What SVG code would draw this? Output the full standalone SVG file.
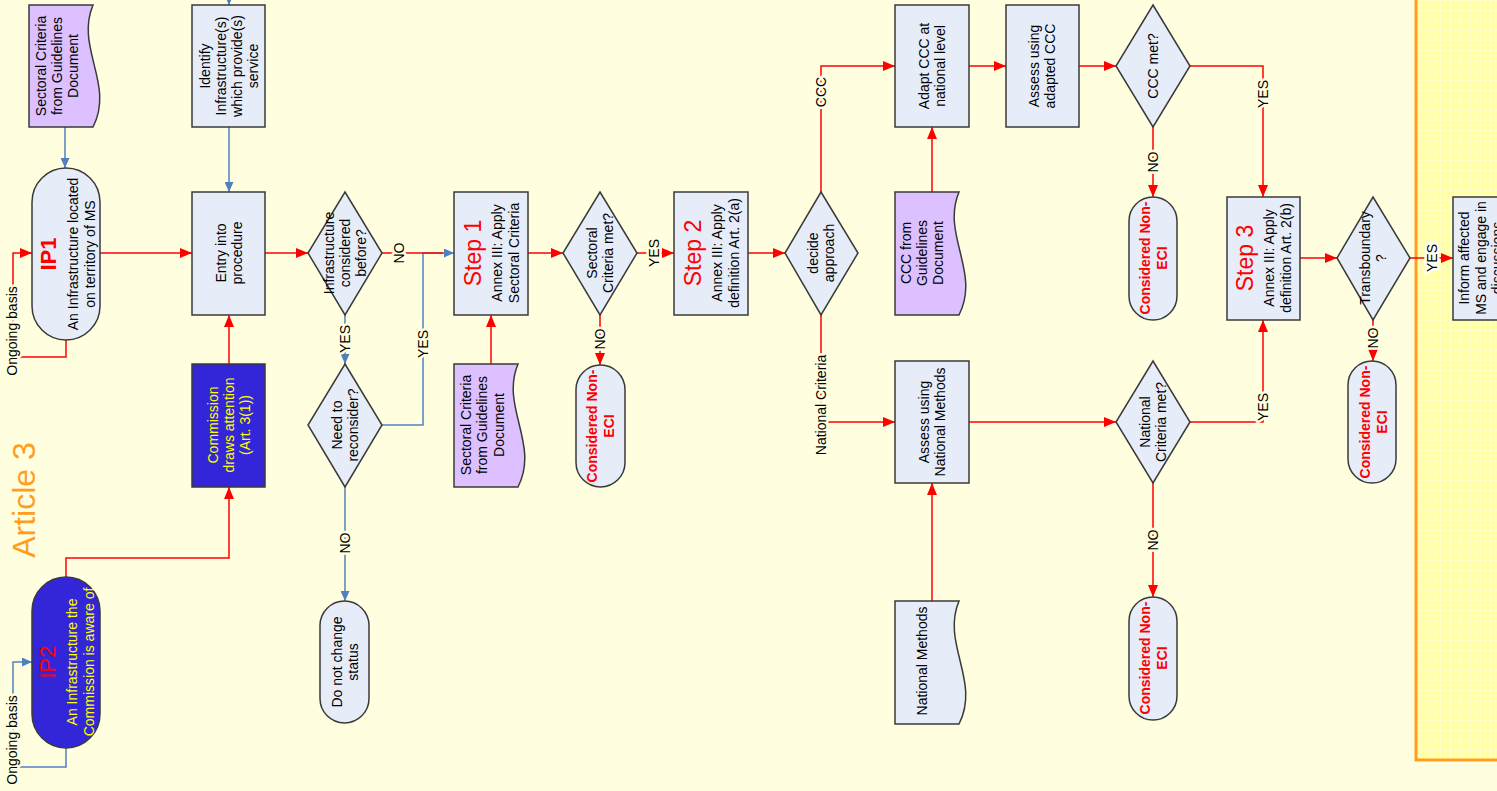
<svg xmlns="http://www.w3.org/2000/svg" width="1497" height="791" viewBox="0 0 1497 791">
<style>
text{font-family:"Liberation Sans",Arial,sans-serif;font-size:14px;fill:#000;text-anchor:middle}
.node{fill:#E6ECF8;stroke:#3a3a3a;stroke-width:1.5}
.doc{fill:#DCC0FF;stroke:#3a3a3a;stroke-width:1.5}
.dark{fill:#3326D9;stroke:#3a3a3a;stroke-width:1.5}
.yel{fill:#FFFF00}
.red{fill:#FF0000}
.big{font-size:23px}
.ip{font-size:22px}
.bold{font-weight:bold}
.c{fill:none;stroke:#FF0000;stroke-width:1.5}
.b{fill:none;stroke:#5080C0;stroke-width:1.5}
.ar{marker-end:url(#ra)}
.ab{marker-end:url(#ba)}
.lbl{font-size:14px;paint-order:stroke;stroke:#FFFFE0;stroke-width:5px;stroke-linejoin:round}
.lblw{font-size:14px;paint-order:stroke;stroke:#FFFFF2;stroke-width:5px;stroke-linejoin:round}
</style>
<defs>
<marker id="ra" markerUnits="userSpaceOnUse" markerWidth="12" markerHeight="10" refX="12" refY="5" orient="auto"><path d="M0,0 L12,5 L0,10 z" fill="#FF0000"/></marker>
<marker id="ba" markerUnits="userSpaceOnUse" markerWidth="10" markerHeight="9" refX="10" refY="4.5" orient="auto"><path d="M0,0 L10,4.5 L0,9 z" fill="#5080C0"/></marker>
<pattern id="grid" width="5" height="5" patternUnits="userSpaceOnUse"><rect width="5" height="5" fill="#FFFFA6"/><path d="M0,0.5 H5 M0.5,0 V5" stroke="#FFFFC4" stroke-width="1"/></pattern>
</defs>
<rect width="1497" height="791" fill="#FFFFE0"/>
<rect x="1416" y="-10" width="100" height="770" fill="url(#grid)" stroke="#FF9E1E" stroke-width="3"/>

<g id="connectors">
<path class="c ar" d="M100,253 H192"/>
<path class="c ar" d="M66,340 V357 H13 V253 H32"/>
<path class="c ar" d="M66,577 V558 H229 V487"/>
<path class="b ab" d="M66,748 V767 H13 V662 H32"/>
<path class="c ar" d="M229,364 V315"/>
<path class="b ab" d="M229,127 V192"/>
<path class="b ab" d="M229,-5 V5"/>
<path class="b ab" d="M65,127 V168"/>
<path class="c ar" d="M265,253 H308"/>
<path class="b ab" d="M345,315 V364"/>
<path class="b ab" d="M345,487 V601"/>
<path class="b ab" d="M382,425 H423 V253 H454"/>
<path class="c" d="M382,253 H443"/>
<path class="c ar" d="M491,364 V315"/>
<path class="c ar" d="M528,253 H563"/>
<path class="c ar" d="M600,315 V365"/>
<path class="c ar" d="M637,253 H674"/>
<path class="c ar" d="M748,253 H785"/>
<path class="c ar" d="M821,192 V66 H895"/>
<path class="c ar" d="M821,315 V422 H895"/>
<path class="c ar" d="M932,192 V127"/>
<path class="c ar" d="M969,66 H1006"/>
<path class="c ar" d="M1079,66 H1116"/>
<path class="c ar" d="M1153,127 V197"/>
<path class="c ar" d="M1190,66 H1263 V197"/>
<path class="c ar" d="M932,601 V483"/>
<path class="c ar" d="M969,422 H1116"/>
<path class="c ar" d="M1153,483 V597"/>
<path class="c ar" d="M1190,422 H1263 V320"/>
<path class="c ar" d="M1300,258 H1337"/>
<path class="c ar" d="M1373,320 V361"/>
<path class="c ar" d="M1410,258 H1453"/>
<text class="lbl" transform="translate(12,331) rotate(-90)" y="5">Ongoing basis</text>
<text class="lbl" transform="translate(12,740) rotate(-90)" y="5">Ongoing basis</text>
<text class="lbl" transform="translate(345,339) rotate(-90)" y="5">YES</text>
<text class="lbl" transform="translate(423,344) rotate(-90)" y="5">YES</text>
<text class="lbl" transform="translate(399,253) rotate(-90)" y="5">NO</text>
<text class="lbl" transform="translate(345,543) rotate(-90)" y="5">NO</text>
<text class="lbl" transform="translate(600,339) rotate(-90)" y="5">NO</text>
<text class="lbl" transform="translate(654,253) rotate(-90)" y="5">YES</text>
<text class="lbl" transform="translate(821,92) rotate(-90)" y="5">CCC</text>
<text class="lbl" transform="translate(821,405) rotate(-90)" y="5">National Criteria</text>
<text class="lbl" transform="translate(1153,162) rotate(-90)" y="5">NO</text>
<text class="lbl" transform="translate(1263,94) rotate(-90)" y="5">YES</text>
<text class="lbl" transform="translate(1153,540) rotate(-90)" y="5">NO</text>
<text class="lbl" transform="translate(1263,407) rotate(-90)" y="5">YES</text>
<text class="lbl" transform="translate(1373,338) rotate(-90)" y="5">NO</text>
<text class="lblw" transform="translate(1432,258) rotate(-90)" y="5">YES</text>
</g>

<g id="article3"><text transform="translate(24,500) rotate(-90)" y="11" style="font-size:32px;fill:#FF9E1E">Article 3</text></g>

<g id="doc-sectoral-1">
<path class="doc" d="M29,5 H93 C75,48 115,84 93,127 H29 Z"/>
<text transform="translate(57,66) rotate(-90)"><tspan x="0" y="-11">Sectoral Criteria</tspan><tspan x="0" y="5">from Guidelines</tspan><tspan x="0" y="21">Document</tspan></text>
</g>

<g id="ip1">
<rect class="node" x="32" y="168" width="68" height="172" rx="34"/>
<text transform="translate(66,254) rotate(-90)"><tspan x="0" y="-10" class="ip bold red">IP1</tspan><tspan x="0" y="12">An Infrastructure located</tspan><tspan x="0" y="29">on territory of MS</tspan></text>
</g>

<g id="identify">
<rect class="node" x="192" y="5" width="73" height="122"/>
<text transform="translate(229,66) rotate(-90)"><tspan x="0" y="-19">Identify</tspan><tspan x="0" y="-3">Infrastructure(s)</tspan><tspan x="0" y="13">which provide(s)</tspan><tspan x="0" y="29">service</tspan></text>
</g>

<g id="entry">
<rect class="node" x="192" y="192" width="73" height="123"/>
<text transform="translate(229,253) rotate(-90)"><tspan x="0" y="-3">Entry into</tspan><tspan x="0" y="13">procedure</tspan></text>
</g>

<g id="commission">
<rect class="dark" x="192" y="364" width="73" height="123"/>
<text class="yel" transform="translate(229,425) rotate(-90)"><tspan x="0" y="-11">Commission</tspan><tspan x="0" y="5">draws attention</tspan><tspan x="0" y="21">(Art. 3(1))</tspan></text>
</g>

<g id="ip2">
<rect class="dark" x="32" y="577" width="68" height="171" rx="34"/>
<text class="yel" transform="translate(66,662) rotate(-90)"><tspan x="0" y="-11" class="ip red">IP2</tspan><tspan x="0" y="11">An Infrastructure the</tspan><tspan x="0" y="28">Commission is aware of</tspan></text>
</g>

<g id="considered-before">
<polygon class="node" points="345,192 382,253 345,315 308,253"/>
<text transform="translate(345,253) rotate(-90)"><tspan x="0" y="-11">Infrastructure</tspan><tspan x="0" y="5">considered</tspan><tspan x="0" y="21">before?</tspan></text>
</g>

<g id="need-reconsider">
<polygon class="node" points="345,364 382,425 345,487 308,425"/>
<text transform="translate(345,425) rotate(-90)"><tspan x="0" y="-3">Need to</tspan><tspan x="0" y="13">reconsider?</tspan></text>
</g>

<g id="do-not-change">
<rect class="node" x="320" y="601" width="49" height="122" rx="24.5"/>
<text transform="translate(345,662) rotate(-90)"><tspan x="0" y="-3">Do not change</tspan><tspan x="0" y="13">status</tspan></text>
</g>

<g id="step1">
<rect class="node" x="454" y="192" width="74" height="123"/>
<text transform="translate(491,253) rotate(-90)"><tspan x="0" y="-10" class="big red">Step 1</tspan><tspan x="0" y="11">Annex III: Apply</tspan><tspan x="0" y="28">Sectoral Criteria</tspan></text>
</g>

<g id="doc-sectoral-2">
<path class="doc" d="M454,364 H518 C500,407 540,444 518,487 H454 Z"/>
<text transform="translate(482,425) rotate(-90)"><tspan x="0" y="-11">Sectoral Criteria</tspan><tspan x="0" y="5">from Guidelines</tspan><tspan x="0" y="22">Document</tspan></text>
</g>

<g id="sectoral-met">
<polygon class="node" points="600,192 637,253 600,315 563,253"/>
<text transform="translate(600,253) rotate(-90)"><tspan x="0" y="-3">Sectoral</tspan><tspan x="0" y="13">Criteria met?</tspan></text>
</g>

<g id="non-eci-1">
<rect class="node" x="576" y="365" width="49" height="122" rx="24.5"/>
<text class="red bold" transform="translate(600,426) rotate(-90)"><tspan x="0" y="-3">Considered Non-</tspan><tspan x="0" y="14">ECI</tspan></text>
</g>

<g id="step2">
<rect class="node" x="674" y="192" width="74" height="123"/>
<text transform="translate(711,253) rotate(-90)"><tspan x="0" y="-10" class="big red">Step 2</tspan><tspan x="0" y="11">Annex III: Apply</tspan><tspan x="0" y="28">definition Art. 2(a)</tspan></text>
</g>

<g id="decide">
<polygon class="node" points="821,192 858,253 821,315 785,253"/>
<text transform="translate(821,253) rotate(-90)"><tspan x="0" y="-3">decide</tspan><tspan x="0" y="13">approach</tspan></text>
</g>

<g id="adapt-ccc">
<rect class="node" x="895" y="5" width="74" height="122"/>
<text transform="translate(932,66) rotate(-90)"><tspan x="0" y="-3">Adapt CCC at</tspan><tspan x="0" y="13">national level</tspan></text>
</g>

<g id="doc-ccc">
<path class="doc" d="M895,192 H959 C941,235 981,272 959,315 H895 Z"/>
<text transform="translate(922,253) rotate(-90)"><tspan x="0" y="-11">CCC from</tspan><tspan x="0" y="5">Guidelines</tspan><tspan x="0" y="21">Document</tspan></text>
</g>

<g id="assess-national">
<rect class="node" x="895" y="361" width="74" height="122"/>
<text transform="translate(932,422) rotate(-90)"><tspan x="0" y="-3">Assess using</tspan><tspan x="0" y="13">National Methods</tspan></text>
</g>

<g id="doc-national-methods">
<path class="node" d="M895,601 H959 C941,644 981,681 959,724 H895 Z"/>
<text transform="translate(922,661) rotate(-90)" y="5">National Methods</text>
</g>

<g id="assess-adapted">
<rect class="node" x="1006" y="5" width="73" height="122"/>
<text transform="translate(1042,66) rotate(-90)"><tspan x="0" y="-3">Assess using</tspan><tspan x="0" y="13">adapted CCC</tspan></text>
</g>

<g id="ccc-met">
<polygon class="node" points="1153,5 1190,66 1153,127 1116,66"/>
<text transform="translate(1153,66) rotate(-90)" y="5">CCC met?</text>
</g>

<g id="non-eci-2">
<rect class="node" x="1129" y="197" width="48" height="123" rx="24"/>
<text class="red bold" transform="translate(1153,258) rotate(-90)"><tspan x="0" y="-3">Considered Non-</tspan><tspan x="0" y="14">ECI</tspan></text>
</g>

<g id="national-met">
<polygon class="node" points="1153,361 1190,422 1153,483 1116,422"/>
<text transform="translate(1153,422) rotate(-90)"><tspan x="0" y="-3">National</tspan><tspan x="0" y="13">Criteria met?</tspan></text>
</g>

<g id="non-eci-3">
<rect class="node" x="1129" y="597" width="48" height="123" rx="24"/>
<text class="red bold" transform="translate(1153,658) rotate(-90)"><tspan x="0" y="-3">Considered Non-</tspan><tspan x="0" y="14">ECI</tspan></text>
</g>

<g id="step3">
<rect class="node" x="1227" y="197" width="73" height="123"/>
<text transform="translate(1263,258) rotate(-90)"><tspan x="0" y="-10" class="big red">Step 3</tspan><tspan x="0" y="11">Annex III: Apply</tspan><tspan x="0" y="28">definition Art. 2(b)</tspan></text>
</g>

<g id="transboundary">
<polygon class="node" points="1373,197 1410,258 1373,320 1337,258"/>
<text transform="translate(1373,258) rotate(-90)"><tspan x="0" y="-3">Transboundary</tspan><tspan x="0" y="13">?</tspan></text>
</g>

<g id="non-eci-4">
<rect class="node" x="1348" y="361" width="48" height="122" rx="24"/>
<text class="red bold" transform="translate(1373,422) rotate(-90)"><tspan x="0" y="-3">Considered Non-</tspan><tspan x="0" y="14">ECI</tspan></text>
</g>

<g id="inform">
<rect class="node" x="1453" y="197" width="74" height="123"/>
<text transform="translate(1490,258) rotate(-90)"><tspan x="0" y="-21">Inform affected</tspan><tspan x="0" y="-4">MS and engage in</tspan><tspan x="0" y="12">discussions</tspan></text>
</g>
</svg>
